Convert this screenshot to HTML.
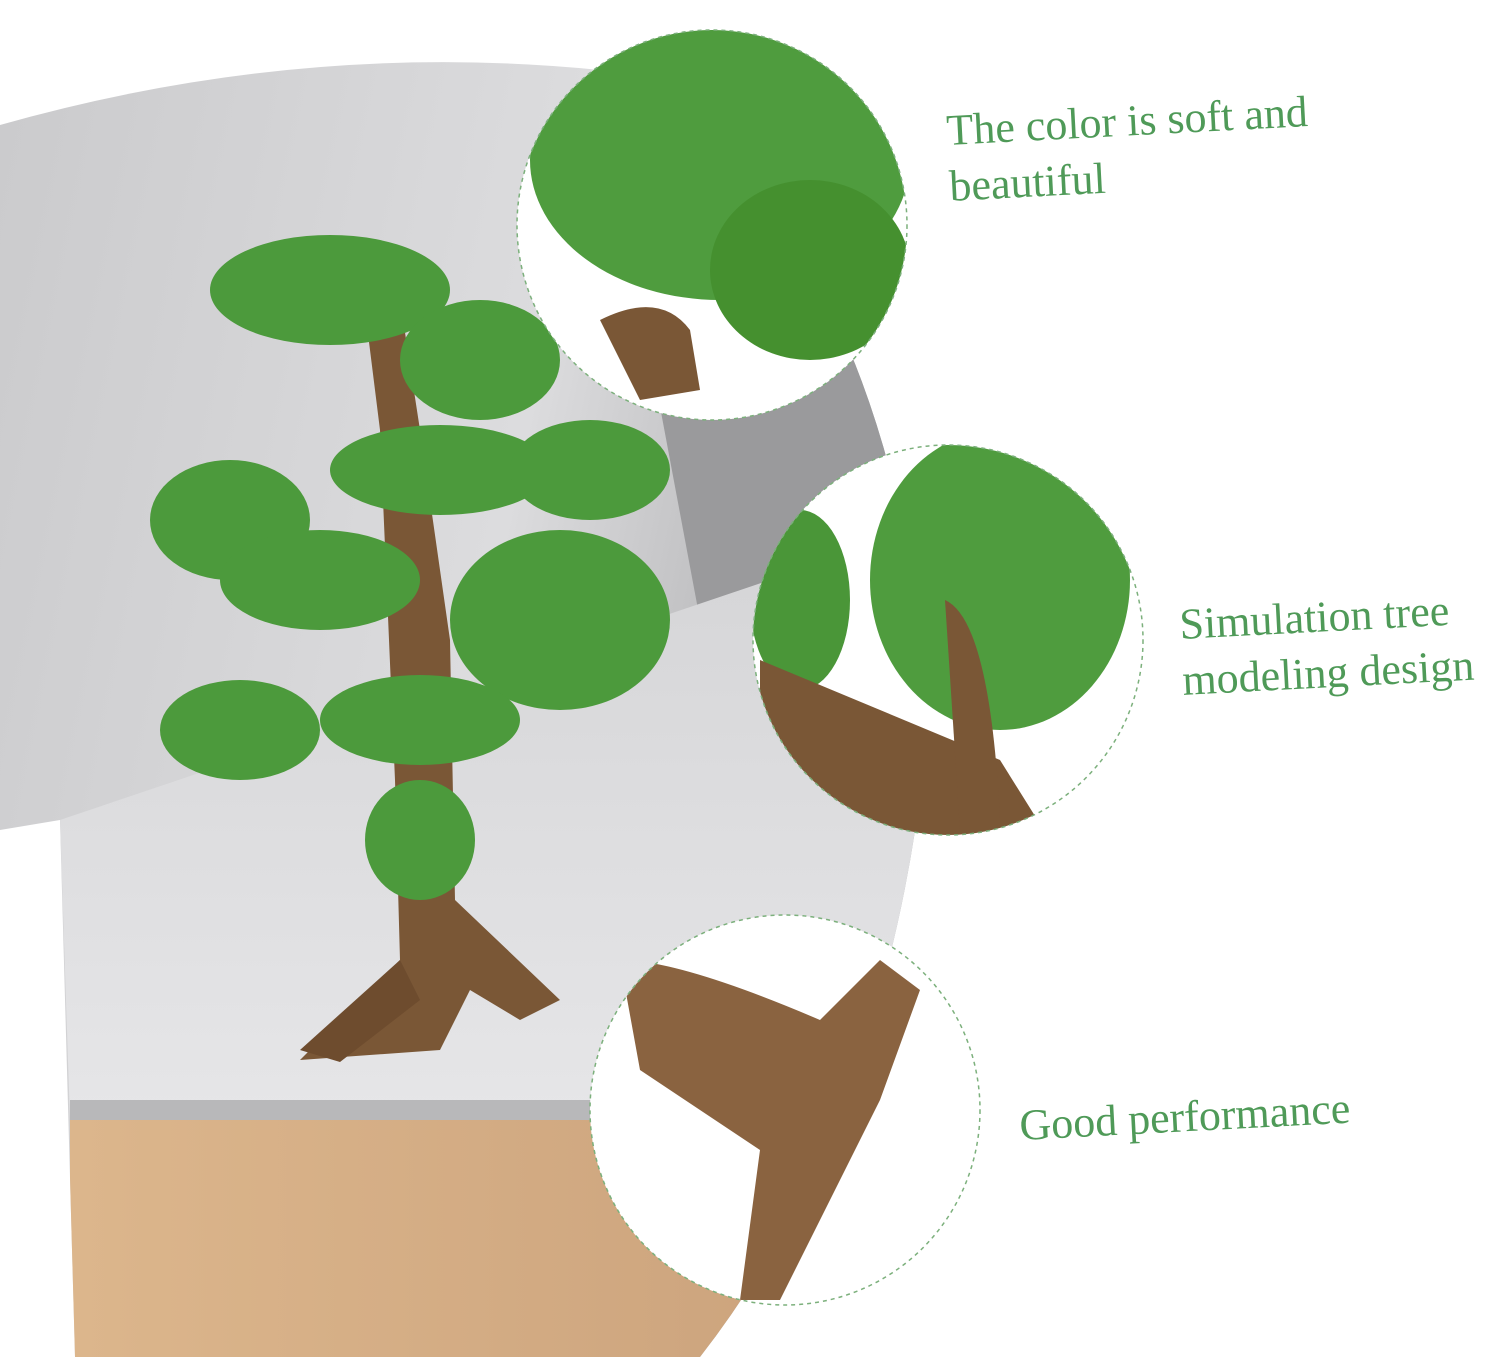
<!DOCTYPE html>
<html><head><meta charset="utf-8"><style>
html,body{margin:0;padding:0;background:#fff;}
body{width:1500px;height:1357px;position:relative;overflow:hidden;}
svg{position:absolute;left:0;top:0;}
.t{position:absolute;font-family:"Liberation Serif",serif;color:#4f9a58;font-size:44px;line-height:56px;transform:rotate(-3deg);transform-origin:left top;white-space:nowrap;}
</style></head><body>
<svg width="1500" height="1357" viewBox="0 0 1500 1357">
<defs>
<clipPath id="panel"><path d="M0,125 Q300,40 600,70 Q880,200 930,700 Q900,1100 700,1357 L75,1357 L60,820 L0,830 Z"/></clipPath>
<linearGradient id="wall" x1="0" y1="0" x2="1" y2="0.3"><stop offset="0" stop-color="#cacacc"/><stop offset="0.6" stop-color="#dcdcde"/><stop offset="1" stop-color="#a8a8aa"/></linearGradient>
<linearGradient id="table" x1="0" y1="0" x2="0" y2="1"><stop offset="0" stop-color="#d6d6d8"/><stop offset="1" stop-color="#e6e6e8"/></linearGradient>
<linearGradient id="wood" x1="0" y1="0" x2="1" y2="0"><stop offset="0" stop-color="#dcb68c"/><stop offset="1" stop-color="#c9a07a"/></linearGradient>
<clipPath id="c1"><circle cx="712" cy="225" r="195"/></clipPath>
<clipPath id="c2"><circle cx="948" cy="640" r="195"/></clipPath>
<clipPath id="c3"><circle cx="785" cy="1110" r="195"/></clipPath>
</defs>
<g clip-path="url(#panel)">
<rect x="0" y="0" width="940" height="1357" fill="url(#wall)"/>
<polygon points="640,300 940,300 940,640 700,620" fill="#9a9a9c"/>
<polygon points="60,820 770,580 940,600 940,1120 70,1120" fill="url(#table)"/>
<polygon points="70,1120 940,1120 940,1357 70,1357" fill="url(#wood)"/>
<rect x="70" y="1100" width="870" height="20" fill="#b8b8ba"/>
</g>
<!-- tree -->
<polygon points="300,1060 400,960 395,780 380,430 360,270 400,300 420,430 450,640 455,900 560,1000 520,1020 470,990 440,1050" fill="#7a5736"/>
<polygon points="400,960 300,1050 340,1062 420,1000" fill="#6e4c2e"/>
<g fill="#4c9a3c">
<ellipse cx="330" cy="290" rx="120" ry="55"/>
<ellipse cx="480" cy="360" rx="80" ry="60"/>
<ellipse cx="440" cy="470" rx="110" ry="45"/>
<ellipse cx="590" cy="470" rx="80" ry="50"/>
<ellipse cx="230" cy="520" rx="80" ry="60"/>
<ellipse cx="320" cy="580" rx="100" ry="50"/>
<ellipse cx="560" cy="620" rx="110" ry="90"/>
<ellipse cx="240" cy="730" rx="80" ry="50"/>
<ellipse cx="420" cy="720" rx="100" ry="45"/>
<ellipse cx="420" cy="840" rx="55" ry="60"/>
</g>
<g clip-path="url(#c1)"><rect x="500" y="20" width="420" height="420" fill="#fff"/>
<ellipse cx="720" cy="160" rx="190" ry="140" fill="#4f9c3e"/><ellipse cx="810" cy="270" rx="100" ry="90" fill="#45902f"/>
<path d="M600,320 Q660,290 690,330 L700,390 L640,400 Z" fill="#7a5736"/></g>
<circle cx="712" cy="225" r="195" fill="none" stroke="#7cb07c" stroke-width="1.5" stroke-dasharray="4,4"/>
<g clip-path="url(#c2)"><rect x="750" y="440" width="400" height="400" fill="#fff"/>
<ellipse cx="1000" cy="580" rx="130" ry="150" fill="#4f9c3e"/><ellipse cx="800" cy="600" rx="50" ry="90" fill="#4a9638"/>
<path d="M760,660 L1000,760 L1050,840 L760,840 Z" fill="#7a5736"/><path d="M945,600 Q990,620 1000,820 L960,830 Z" fill="#7a5736"/></g>
<circle cx="948" cy="640" r="195" fill="none" stroke="#7cb07c" stroke-width="1.5" stroke-dasharray="4,4"/>
<g clip-path="url(#c3)"><rect x="590" y="910" width="400" height="400" fill="#fff"/>
<path d="M620,960 Q680,960 820,1020 L880,960 L920,990 L880,1100 L780,1300 L740,1300 L760,1150 L640,1070 Z" fill="#8a6340"/></g>
<circle cx="785" cy="1110" r="195" fill="none" stroke="#7cb07c" stroke-width="1.5" stroke-dasharray="4,4"/>
</svg>
<div class="t" style="left:945px;top:103px;">The color is soft and<br>beautiful</div>
<div class="t" style="left:1178px;top:597px;">Simulation tree<br>modeling design</div>
<div class="t" style="left:1018px;top:1098px;">Good performance</div>
</body></html>
